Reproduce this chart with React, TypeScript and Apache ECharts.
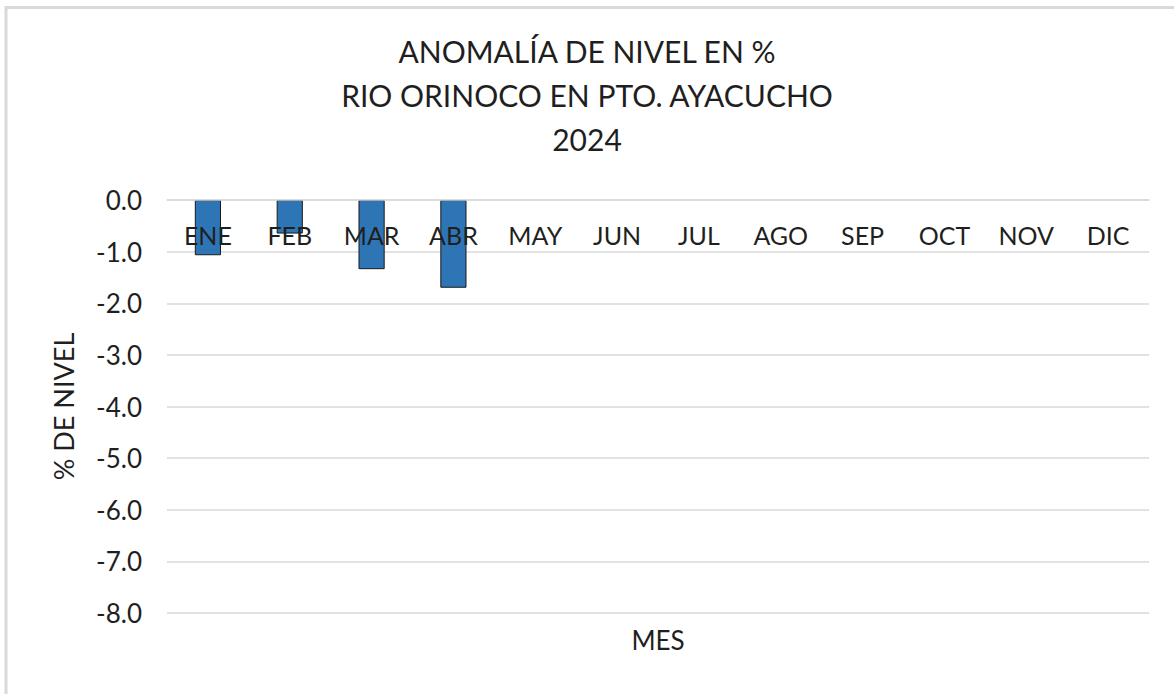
import React, { useEffect, useRef } from "react";
import * as echarts from "echarts";

const titleLines = ["ANOMALÍA DE NIVEL EN %", "RIO ORINOCO EN PTO. AYACUCHO", "2024"];
const months = ["ENE", "FEB", "MAR", "ABR", "MAY", "JUN", "JUL", "AGO", "SEP", "OCT", "NOV", "DIC"];
const anomaly: (number | null)[] = [-1.07, -0.65, -1.34, -1.7, null, null, null, null, null, null, null, null];
const yMin = -8;
const yMax = 0;
const yStep = 1;
const yName = "% DE NIVEL";
const xName = "MES";

const FONT = "Lato";

export default function App() {
  const ref = useRef<HTMLDivElement>(null);
  useEffect(() => {
    if (!ref.current) return;
    const chart = echarts.init(ref.current, undefined, { renderer: "svg" });
    chart.setOption({
      animation: false,
      backgroundColor: "#ffffff",
      textStyle: { fontFamily: FONT },
      title: {
        text: titleLines.join("\n"),
        left: "center",
        top: 24,
        textStyle: { fontFamily: FONT, fontSize: 30, fontWeight: "normal", color: "#1f1f1f", lineHeight: 44 },
      },
      graphic: [
        {
          type: "rect",
          z: -10,
          shape: { x: 6, y: 7.5, width: 1300, height: 800 },
          style: { fill: "none", stroke: "#d9d9d9", lineWidth: 3 },
        },
        {
          type: "text",
          x: 658,
          y: 640,
          style: {
            text: xName,
            fontFamily: FONT,
            fontSize: 26,
            fill: "#1f1f1f",
            align: "center",
            verticalAlign: "middle",
          },
        },
      ],
      grid: { left: 167, right: 25, top: 200, bottom: 81, containLabel: false, outerBoundsMode: "none" },
      xAxis: {
        type: "category",
        data: months,
        position: "top",
        z: 10,
        axisLine: { show: true, onZero: false, lineStyle: { color: "#d9d9d9", width: 1.5 } },
        axisTick: { show: false },
        axisLabel: { inside: true, fontFamily: FONT, fontSize: 25, color: "#1f1f1f", margin: 22, interval: 0 },
      },
      yAxis: {
        type: "value",
        min: yMin,
        max: yMax,
        interval: yStep,
        name: yName,
        nameLocation: "middle",
        nameRotate: 90,
        nameGap: 90,
        nameTextStyle: { fontFamily: FONT, fontSize: 27, color: "#1f1f1f" },
        axisLine: { show: false },
        axisTick: { show: false },
        splitLine: { lineStyle: { color: "#d9d9d9", width: 1.5 } },
        axisLabel: {
          fontFamily: FONT,
          fontSize: 26,
          color: "#1f1f1f",
          margin: 25,
          formatter: (v: number) => v.toFixed(1),
        },
      },
      series: [
        {
          type: "bar",
          data: anomaly,
          barWidth: "32%",
          itemStyle: { color: "#2E75B6", borderColor: "#1a1a1a", borderWidth: 1 },
          z: 1,
        },
      ],
    });
    return () => chart.dispose();
  }, []);
  return (
    <div
      ref={ref}
      style={{ position: "fixed", left: 0, top: 0, width: 1174, height: 694 }}
    />
  );
}
